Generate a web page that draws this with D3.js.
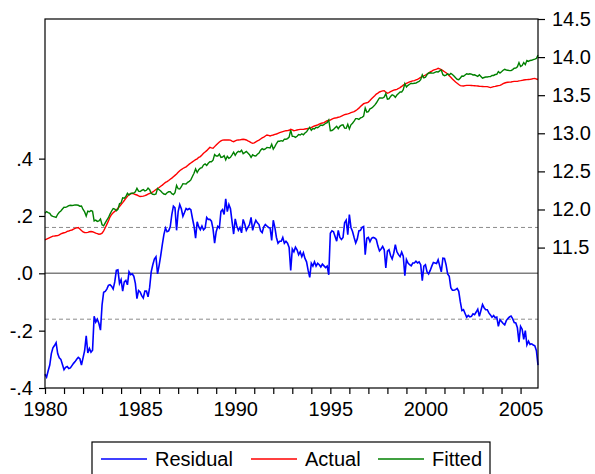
<!DOCTYPE html>
<html>
<head>
<meta charset="utf-8">
<script src="https://cdn.jsdelivr.net/npm/d3@7"></script>
<style>
  html, body { margin: 0; padding: 0; background: #fff; }
  svg { display: block; }
  text { font-family: "Liberation Sans", Arial, sans-serif; fill: #000; }
</style>
</head>
<body>
<svg id="chart" width="595" height="474"></svg>
<script>
// Monthly sample 1980M01 - 2005M12
const startYear = 1980;

// Residual (left axis), one row per year
const residual = [
  -0.352,-0.362,-0.340,-0.320,-0.280,-0.260,-0.252,-0.242,-0.280,-0.295,-0.300,-0.318,
  -0.336,-0.328,-0.325,-0.332,-0.330,-0.322,-0.314,-0.308,-0.300,-0.293,-0.298,-0.320,
  -0.295,-0.270,-0.218,-0.278,-0.262,-0.275,-0.268,-0.150,-0.170,-0.160,-0.175,-0.198,
  -0.110,-0.066,-0.063,-0.055,-0.042,-0.040,-0.045,-0.055,-0.030,0.010,0.012,-0.035,
  -0.022,-0.062,-0.030,-0.025,-0.040,0.005,-0.005,-0.002,-0.010,-0.035,-0.088,-0.060,
  -0.065,-0.078,-0.086,-0.062,-0.062,-0.082,-0.050,0.005,0.030,0.050,0.058,-0.002,
  0.028,0.062,0.100,0.135,0.158,0.145,0.148,0.162,0.205,0.234,0.228,0.150,
  0.215,0.240,0.225,0.199,0.212,0.226,0.222,0.226,0.222,0.192,0.165,0.123,
  0.180,0.162,0.152,0.165,0.152,0.158,0.195,0.188,0.188,0.182,0.155,0.105,
  0.145,0.164,0.158,0.216,0.222,0.205,0.260,0.215,0.240,0.225,0.180,0.137,
  0.190,0.165,0.150,0.160,0.141,0.188,0.172,0.150,0.160,0.170,0.195,0.150,
  0.170,0.185,0.176,0.170,0.148,0.142,0.162,0.170,0.165,0.160,0.158,0.115,
  0.185,0.160,0.125,0.105,0.112,0.112,0.125,0.105,0.112,0.105,0.090,0.010,
  0.085,0.075,0.091,0.082,0.065,0.075,0.058,0.072,0.052,0.040,0.010,-0.014,
  0.035,0.025,0.040,0.025,0.035,0.030,0.022,0.032,0.026,0.020,0.025,-0.005,
  0.140,0.148,0.145,0.128,0.112,0.150,0.125,0.118,0.125,0.176,0.185,0.135,
  0.205,0.160,0.146,0.125,0.106,0.120,0.148,0.150,0.160,0.163,0.065,0.122,
  0.125,0.110,0.122,0.125,0.123,0.118,0.095,0.078,0.085,0.094,0.082,0.019,
  0.077,0.082,0.062,0.050,0.070,0.100,0.075,0.065,0.058,0.074,0.060,-0.008,
  0.048,0.036,0.030,0.026,0.036,0.036,0.042,0.036,0.040,0.030,-0.026,0.025,
  0.030,0.005,-0.002,0.010,0.025,0.038,0.036,0.034,0.047,0.026,0.005,0.053,
  0.052,0.030,-0.002,-0.010,-0.050,-0.059,-0.059,-0.057,-0.053,-0.063,-0.100,-0.130,
  -0.127,-0.140,-0.153,-0.147,-0.152,-0.150,-0.141,-0.144,-0.135,-0.125,-0.150,-0.130,
  -0.109,-0.120,-0.127,-0.127,-0.138,-0.145,-0.153,-0.147,-0.155,-0.153,-0.185,-0.162,
  -0.168,-0.175,-0.180,-0.165,-0.158,-0.152,-0.149,-0.158,-0.172,-0.173,-0.190,-0.240,
  -0.185,-0.195,-0.230,-0.200,-0.250,-0.237,-0.248,-0.246,-0.250,-0.253,-0.270,-0.320
];

// Actual (right axis)
const actual = [
  11.600,11.610,11.620,11.630,11.640,11.650,11.652,11.655,11.657,11.668,11.680,11.688,
  11.694,11.700,11.712,11.718,11.725,11.731,11.742,11.752,11.758,11.762,11.745,11.725,
  11.705,11.698,11.696,11.700,11.708,11.710,11.708,11.700,11.690,11.684,11.676,11.678,
  11.690,11.720,11.760,11.805,11.850,11.900,11.935,11.958,11.975,11.994,12.015,12.040,
  12.065,12.090,12.118,12.145,12.172,12.195,12.205,12.212,12.205,12.196,12.190,12.180,
  12.170,12.172,12.176,12.182,12.190,12.200,12.210,12.218,12.230,12.245,12.262,12.275,
  12.288,12.305,12.320,12.338,12.355,12.365,12.380,12.396,12.412,12.430,12.448,12.466,
  12.488,12.508,12.524,12.538,12.548,12.560,12.578,12.595,12.610,12.625,12.640,12.655,
  12.665,12.685,12.694,12.715,12.737,12.755,12.772,12.795,12.815,12.808,12.803,12.825,
  12.846,12.866,12.885,12.900,12.910,12.912,12.912,12.913,12.912,12.910,12.898,12.890,
  12.900,12.910,12.912,12.914,12.918,12.921,12.918,12.912,12.900,12.890,12.878,12.868,
  12.875,12.888,12.900,12.910,12.925,12.940,12.948,12.965,12.978,12.972,12.965,12.972,
  12.978,12.985,12.991,13.000,13.008,13.015,13.022,13.028,13.034,13.035,13.040,13.052,
  13.045,13.034,13.038,13.043,13.048,13.052,13.052,13.052,13.056,13.060,13.062,13.064,
  13.075,13.088,13.096,13.103,13.109,13.120,13.131,13.135,13.139,13.152,13.165,13.170,
  13.174,13.185,13.196,13.200,13.204,13.210,13.216,13.225,13.236,13.244,13.250,13.254,
  13.262,13.271,13.278,13.284,13.298,13.312,13.330,13.352,13.370,13.388,13.396,13.400,
  13.410,13.430,13.452,13.472,13.492,13.515,13.528,13.542,13.550,13.556,13.559,13.540,
  13.525,13.535,13.546,13.556,13.566,13.572,13.577,13.588,13.600,13.615,13.632,13.645,
  13.655,13.665,13.674,13.682,13.688,13.692,13.700,13.708,13.720,13.733,13.742,13.752,
  13.765,13.776,13.790,13.805,13.816,13.828,13.835,13.842,13.852,13.845,13.836,13.822,
  13.808,13.794,13.778,13.756,13.735,13.712,13.692,13.672,13.656,13.640,13.626,13.622,
  13.621,13.625,13.629,13.629,13.629,13.627,13.625,13.624,13.622,13.621,13.618,13.616,
  13.614,13.612,13.612,13.612,13.606,13.600,13.606,13.612,13.616,13.621,13.625,13.629,
  13.640,13.652,13.660,13.666,13.669,13.671,13.673,13.678,13.682,13.682,13.682,13.688,
  13.691,13.695,13.699,13.702,13.704,13.706,13.708,13.712,13.718,13.721,13.712,13.706
];

// Fitted (right axis)
const fitted = [
  11.952,11.972,11.960,11.950,11.920,11.910,11.904,11.897,11.937,11.963,11.980,12.006,
  12.030,12.028,12.037,12.050,12.055,12.053,12.056,12.060,12.058,12.055,12.043,12.045,
  12.000,11.968,11.914,11.978,11.970,11.985,11.976,11.850,11.860,11.844,11.851,11.876,
  11.800,11.786,11.823,11.860,11.892,11.940,11.980,12.013,12.005,11.984,12.003,12.075,
  12.087,12.152,12.148,12.170,12.212,12.190,12.210,12.214,12.215,12.231,12.278,12.240,
  12.235,12.250,12.262,12.244,12.252,12.282,12.260,12.213,12.200,12.195,12.204,12.277,
  12.260,12.243,12.220,12.203,12.197,12.220,12.232,12.234,12.207,12.196,12.220,12.316,
  12.273,12.268,12.299,12.339,12.336,12.334,12.356,12.369,12.388,12.433,12.475,12.532,
  12.485,12.523,12.542,12.550,12.585,12.597,12.577,12.607,12.627,12.626,12.648,12.720,
  12.701,12.702,12.727,12.684,12.688,12.707,12.652,12.698,12.672,12.685,12.718,12.753,
  12.710,12.745,12.762,12.754,12.777,12.733,12.746,12.762,12.740,12.720,12.683,12.718,
  12.705,12.703,12.724,12.740,12.777,12.798,12.786,12.795,12.813,12.812,12.807,12.857,
  12.793,12.825,12.866,12.895,12.896,12.903,12.897,12.923,12.922,12.930,12.950,13.042,
  12.960,12.959,12.947,12.961,12.983,12.977,12.994,12.980,13.004,13.020,13.052,13.078,
  13.040,13.063,13.056,13.078,13.074,13.090,13.109,13.103,13.113,13.132,13.140,13.175,
  13.034,13.037,13.051,13.072,13.092,13.060,13.091,13.107,13.111,13.068,13.065,13.119,
  13.057,13.111,13.132,13.159,13.192,13.192,13.182,13.202,13.210,13.225,13.331,13.278,
  13.285,13.320,13.330,13.347,13.369,13.397,13.433,13.464,13.465,13.462,13.477,13.521,
  13.448,13.453,13.484,13.506,13.496,13.472,13.502,13.523,13.542,13.541,13.572,13.653,
  13.607,13.629,13.644,13.656,13.652,13.656,13.658,13.672,13.680,13.703,13.768,13.727,
  13.735,13.771,13.792,13.795,13.791,13.790,13.799,13.808,13.805,13.819,13.831,13.769,
  13.756,13.764,13.780,13.766,13.785,13.771,13.751,13.729,13.709,13.703,13.726,13.752,
  13.748,13.765,13.782,13.776,13.781,13.777,13.766,13.768,13.757,13.746,13.768,13.746,
  13.723,13.732,13.739,13.739,13.744,13.745,13.759,13.759,13.771,13.774,13.810,13.791,
  13.808,13.827,13.840,13.831,13.827,13.823,13.822,13.836,13.854,13.855,13.872,13.928,
  13.876,13.890,13.929,13.902,13.954,13.943,13.956,13.958,13.968,13.974,13.982,14.026
];

// Axis ticks and labels
const yearTicks = d3.range(1980, 2006);
const yearLabels = [1980, 1985, 1990, 1995, 2000, 2005];
const leftTicks = [-0.4, -0.2, 0.0, 0.2, 0.4];
const leftTickLabels = ["-.4", "-.2", ".0", ".2", ".4"];
const rightTicks = [11.5, 12.0, 12.5, 13.0, 13.5, 14.0, 14.5];
const rightTickLabels = ["11.5", "12.0", "12.5", "13.0", "13.5", "14.0", "14.5"];
const seBand = 0.16;   // one standard error of the regression

const seriesNames = ["Residual", "Actual", "Fitted"];
const seriesColors = ["#0000ff", "#ff0000", "#008000"];

// ---- layout ----
const plot = { left: 45, top: 19, right: 538, bottom: 388 };
const svg = d3.select("#chart");

const x = d3.scaleLinear()
  .domain([startYear, startYear + (residual.length - 1) / 12])
  .range([plot.left, plot.right]);
const yL = d3.scaleLinear().domain([-0.4, 0.887]).range([plot.bottom, plot.top]);
const yR = d3.scaleLinear().domain([9.657, 14.5]).range([plot.bottom, plot.top]);

const t = i => startYear + i / 12;

// reference lines: zero and +/- one standard error
svg.append("line")
  .attr("x1", plot.left).attr("x2", plot.right)
  .attr("y1", yL(0)).attr("y2", yL(0))
  .attr("stroke", "#7f7f7f").attr("stroke-width", 1.6);
[seBand, -seBand].forEach(v => {
  svg.append("line")
    .attr("x1", plot.left).attr("x2", plot.right)
    .attr("y1", yL(v)).attr("y2", yL(v))
    .attr("stroke", "#8c8c8c").attr("stroke-width", 1)
    .attr("stroke-dasharray", "4,3");
});

// series
const lineL = d3.line().x((d, i) => x(t(i))).y(d => yL(d));
const lineR = d3.line().x((d, i) => x(t(i))).y(d => yR(d));

svg.append("path").datum(actual)
  .attr("d", lineR).attr("fill", "none")
  .attr("stroke", seriesColors[1]).attr("stroke-width", 1.4);
svg.append("path").datum(fitted)
  .attr("d", lineR).attr("fill", "none")
  .attr("stroke", seriesColors[2]).attr("stroke-width", 1.4);
svg.append("path").datum(residual)
  .attr("d", lineL).attr("fill", "none")
  .attr("stroke", seriesColors[0]).attr("stroke-width", 1.6);

// frame
svg.append("rect")
  .attr("x", plot.left).attr("y", plot.top)
  .attr("width", plot.right - plot.left).attr("height", plot.bottom - plot.top)
  .attr("fill", "none").attr("stroke", "#000").attr("stroke-width", 1.2);

// axes
const fontSize = "20px";
function styleAxis(g) {
  g.select(".domain").remove();
  g.selectAll(".tick line").attr("stroke", "#000").attr("stroke-width", 1.2);
  g.selectAll(".tick text").style("font-size", fontSize)
    .style("font-family", "'Liberation Sans', Arial, sans-serif").attr("fill", "#000");
}

svg.append("g")
  .attr("transform", `translate(${plot.left},0)`)
  .call(d3.axisLeft(yL).tickValues(leftTicks).tickSize(6).tickPadding(6)
    .tickFormat((d, i) => leftTickLabels[i]))
  .call(styleAxis);

svg.append("g")
  .attr("transform", `translate(${plot.right},0)`)
  .call(d3.axisRight(yR).tickValues(rightTicks).tickSize(7).tickPadding(7)
    .tickFormat((d, i) => rightTickLabels[i]))
  .call(styleAxis);

svg.append("g")
  .attr("transform", `translate(0,${plot.bottom})`)
  .call(d3.axisBottom(x).tickValues(yearTicks).tickSize(6).tickPadding(8)
    .tickFormat(d => yearLabels.includes(d) ? String(d) : ""))
  .call(styleAxis);

// legend
const legend = svg.append("g");
legend.append("rect")
  .attr("x", 92).attr("y", 442).attr("width", 398).attr("height", 40)
  .attr("fill", "#fff").attr("stroke", "#000").attr("stroke-width", 1.2);
const legendX = [101, 251, 378];
seriesNames.forEach((name, k) => {
  legend.append("line")
    .attr("x1", legendX[k]).attr("x2", legendX[k] + 46)
    .attr("y1", 459).attr("y2", 459)
    .attr("stroke", seriesColors[k]).attr("stroke-width", 1.4);
  legend.append("text")
    .attr("x", legendX[k] + 54).attr("y", 466)
    .style("font-size", fontSize)
    .text(name);
});
</script>
</body>
</html>
